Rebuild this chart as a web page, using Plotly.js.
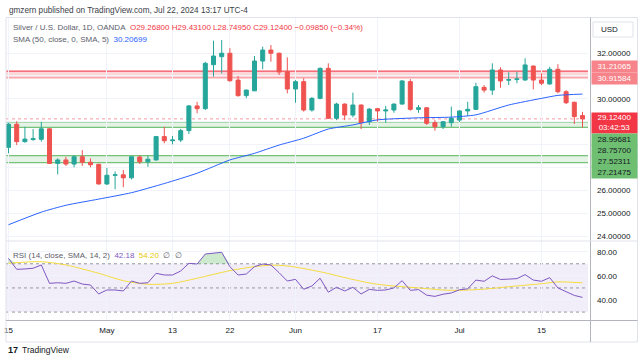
<!DOCTYPE html>
<html><head><meta charset="utf-8">
<script src="https://cdn.plot.ly/plotly-3.0.1.min.js"></script>
<style>html,body{margin:0;padding:0;background:#fff;}#chart{width:643px;height:361px;}</style>
</head><body><div id="chart"></div>
<script>
// ---- data ----
const dates = ['2024-04-15','2024-04-16','2024-04-17','2024-04-18','2024-04-19',
 '2024-04-22','2024-04-23','2024-04-24','2024-04-25','2024-04-26',
 '2024-04-29','2024-04-30','2024-05-01','2024-05-02','2024-05-03',
 '2024-05-06','2024-05-07','2024-05-08','2024-05-09','2024-05-10',
 '2024-05-13','2024-05-14','2024-05-15','2024-05-16','2024-05-17',
 '2024-05-20','2024-05-21','2024-05-22','2024-05-23','2024-05-24',
 '2024-05-27','2024-05-28','2024-05-29','2024-05-30','2024-05-31',
 '2024-06-03','2024-06-04','2024-06-05','2024-06-06','2024-06-07',
 '2024-06-10','2024-06-11','2024-06-12','2024-06-13','2024-06-14',
 '2024-06-17','2024-06-18','2024-06-19','2024-06-20','2024-06-21',
 '2024-06-24','2024-06-25','2024-06-26','2024-06-27','2024-06-28',
 '2024-07-01','2024-07-02','2024-07-03','2024-07-04','2024-07-05',
 '2024-07-08','2024-07-09','2024-07-10','2024-07-11','2024-07-12',
 '2024-07-15','2024-07-16','2024-07-17','2024-07-18','2024-07-19',
 '2024-07-22'];
const open = [27.88,28.89,28.13,28.22,28.23, 28.69,27.18,27.33,27.15,27.47, 27.23,27.14,26.28,26.66,26.68,
 26.55,27.46,27.25,27.33,28.35, 28.17,28.20,28.61,29.69,29.57, 31.49,31.84,31.99,30.82,30.14,
 30.35,31.65,32.13,31.99,31.18, 30.43,30.75,29.51,30.02,31.33, 29.15,29.77,29.29,29.73,29.00,
 29.57,29.47,29.51,29.77,30.75, 29.54,29.61,28.96,28.78,28.96, 29.07,29.47,29.54,30.50,30.38,
 31.26,30.81,30.84,30.82,31.43, 30.82,30.65,31.29,30.31,29.85, 29.268];
const high = [28.96,29.02,28.78,28.68,28.99, 28.72,27.40,27.47,27.53,27.76, 27.40,27.16,26.98,26.83,26.89,
 27.49,27.53,27.53,28.38,28.78, 28.38,28.69,29.73,29.87,31.62, 32.54,32.57,32.21,31.00,30.41,
 31.87,32.28,32.35,32.02,31.81, 30.82,30.90,30.08,31.37,31.55, 29.83,29.80,30.27,29.75,29.59,
 29.60,29.69,29.80,30.82,30.86, 29.73,29.63,29.07,29.02,29.66, 29.50,29.87,30.70,30.60,31.55,
 31.38,31.16,31.18,31.77,31.46, 31.11,31.40,31.51,30.38,29.87, 29.431];
const low = [27.62,27.98,28.08,28.17,28.13, 27.15,26.70,27.07,27.01,27.07, 27.01,26.26,26.24,26.05,26.14,
 26.48,27.15,27.03,27.30,28.06, 28.01,28.11,28.46,29.37,29.51, 30.97,31.11,30.75,30.09,30.03,
 30.33,31.29,31.62,31.04,30.24, 29.83,29.44,29.44,29.98,29.12, 29.07,29.07,29.19,28.68,28.86,
 29.00,28.96,29.39,29.75,29.48, 29.39,28.86,28.61,28.68,28.78, 28.99,29.25,29.51,30.27,30.17,
 30.48,30.60,30.68,30.80,30.41, 30.60,30.62,30.24,29.77,28.90, 28.7495];
const close = [28.89,28.13,28.24,28.26,28.69, 27.18,27.33,27.15,27.47,27.23, 27.12,26.28,26.66,26.68,26.55,
 27.47,27.25,27.36,28.35,28.17, 28.20,28.61,29.69,29.57,31.55, 31.87,31.99,30.79,30.14,30.38,
 31.65,32.13,31.99,31.17,30.43, 30.75,29.51,30.02,31.33,29.15, 29.77,29.29,29.73,28.96,29.55,
 29.47,29.51,29.77,30.78,29.54, 29.61,28.93,28.78,29.00,29.15, 29.47,29.54,30.53,30.38,31.26,
 30.78,30.84,30.87,31.48,30.82, 30.68,31.29,30.31,29.83,29.2225, 29.124];

// SMA(50) read at selected candles
const smaDates = ['2024-04-15','2024-04-19','2024-04-24','2024-04-30','2024-05-06','2024-05-10','2024-05-16',
 '2024-05-22','2024-05-27','2024-05-30','2024-06-04','2024-06-07','2024-06-12','2024-06-17','2024-06-24',
 '2024-06-28','2024-07-03','2024-07-09','2024-07-15','2024-07-17','2024-07-22'];
const smaValues = [24.50,25.05,25.35,25.62,25.90,26.30,26.75,27.33,27.62,27.98,28.28,28.68,28.86,29.08,29.17,
 29.20,29.30,29.73,30.02,30.15,30.20699];

// RSI(14) per candle
const rsi = [74.5,65.4,65.7,66.3,69.0, 53.8,54.3,53.8,55.7,53.2, 52.4,45.0,48.3,48.3,47.5,
 55.7,53.8,54.3,62.1,60.7, 60.7,64.0,70.4,69.8,78.1, 78.7,79.5,67.6,60.7,61.5,
 67.6,69.8,69.0,62.6,55.7, 57.1,48.9,51.6,58.0,46.5, 50.5,47.5,50.5,45.0,48.8,
 48.0,48.3,50.0,56.0,48.0, 48.6,44.0,43.0,44.8,45.8, 48.5,49.2,56.5,55.5,60.0,
 57.0,57.3,57.7,61.0,56.5, 55.5,58.5,50.0,47.0,43.8, 42.18];
// RSI SMA(14) read at selected candles
const rsiSmaDates = ['2024-04-15','2024-04-19','2024-04-24','2024-04-30','2024-05-03','2024-05-08','2024-05-13',
 '2024-05-16','2024-05-22','2024-05-27','2024-05-29','2024-05-31','2024-06-06','2024-06-12','2024-06-17',
 '2024-06-24','2024-06-28','2024-07-04','2024-07-09','2024-07-15','2024-07-17','2024-07-22'];
const rsiSmaValues = [70.4,71.7,69.0,62.1,56.0,53.0,53.8,58.0,64.3,67.6,68.8,68.2,63.4,57.0,53.0,
 50.0,48.0,49.0,51.0,53.5,55.0,54.2];
const rsiBands = [30, 50, 70];

// levels / labels
const resistanceZone = [30.91584, 31.21065];
const supportZones = [[28.75700, 28.99681], [27.21475, 27.52311]];
const priceTicks = [24, 25, 26, 27, 28, 29, 30, 31, 32];
const priceTicksCovered = [27, 28, 29, 31];   // hidden under the level labels in the reference
const rsiTicks = [40, 60, 80];
const tickDates = ['2024-04-15','2024-05-01','2024-05-13','2024-05-22','2024-06-03','2024-06-17','2024-07-01','2024-07-15'];
const tickLabels = ['15','May','13','22','Jun','17','Jul','15'];
const countdown = '03:42:53';
const headerText = 'gmzern published on TradingView.com, Jul 22, 2024 13:17 UTC-4';
const symbolText = 'Silver / U.S. Dollar, 1D, OANDA';

// ---- drawing ----
const FONT = 'Liberation Sans, Arial, sans-serif';
const X = px => (px - 6) / 582;
const Y = py => (320 - py) / 302;
const last = close.length - 1;
const chg = close[last] - close[last - 1];
const pct = chg / close[last - 1] * 100;
const fmtS = v => (v < 0 ? '\u2212' : '') + Math.abs(v).toFixed(5);

const traces = [
 {type:'candlestick', x:dates, open:open, high:high, low:low, close:close, xaxis:'x', yaxis:'y',
  increasing:{line:{color:'#26a69a', width:1}, fillcolor:'#26a69a'},
  decreasing:{line:{color:'#ef5350', width:1}, fillcolor:'#ef5350'},
  whiskerwidth:0, hoverinfo:'skip', showlegend:false},
 {type:'scatter', mode:'lines', x:smaDates, y:smaValues, xaxis:'x', yaxis:'y',
  line:{color:'#2962ff', width:1, shape:'spline', smoothing:0.6}, hoverinfo:'skip', showlegend:false},
 {type:'scatter', mode:'lines', x:dates, y:rsi.map(() => rsiBands[2]), xaxis:'x', yaxis:'y2',
  line:{width:0, color:'rgba(0,0,0,0)'}, hoverinfo:'skip', showlegend:false},
 {type:'scatter', mode:'lines', x:dates, y:rsi.map(v => Math.max(v, rsiBands[2])), xaxis:'x', yaxis:'y2',
  fill:'tonexty', fillcolor:'rgba(76,175,80,0.28)', line:{width:0, color:'rgba(0,0,0,0)'}, hoverinfo:'skip', showlegend:false},
 {type:'scatter', mode:'lines', x:rsiSmaDates, y:rsiSmaValues, xaxis:'x', yaxis:'y2',
  line:{color:'#f5dc3c', width:1, shape:'spline', smoothing:0.8}, hoverinfo:'skip', showlegend:false},
 {type:'scatter', mode:'lines', x:dates, y:rsi, xaxis:'x', yaxis:'y2',
  line:{color:'#7e57c2', width:1}, hoverinfo:'skip', showlegend:false}
];

const shapes = [];
// resistance zone
shapes.push({type:'rect', xref:'paper', x0:0, x1:1, yref:'y', y0:resistanceZone[0], y1:resistanceZone[1],
  fillcolor:'rgba(242,54,69,0.2)', line:{width:0}, layer:'below'});
shapes.push({type:'line', xref:'paper', x0:0, x1:1, yref:'y', y0:resistanceZone[1], y1:resistanceZone[1],
  line:{color:'rgba(242,54,69,0.85)', width:1.3}, layer:'below'});
shapes.push({type:'line', xref:'paper', x0:0, x1:1, yref:'y', y0:resistanceZone[0], y1:resistanceZone[0],
  line:{color:'rgba(242,54,69,0.45)', width:1.3}, layer:'below'});
// support zones
supportZones.forEach(z => {
  shapes.push({type:'rect', xref:'paper', x0:0, x1:1, yref:'y', y0:z[0], y1:z[1],
    fillcolor:'rgba(76,175,80,0.15)', line:{width:0}, layer:'below'});
  z.forEach(v => shapes.push({type:'line', xref:'paper', x0:0, x1:1, yref:'y', y0:v, y1:v,
    line:{color:'rgba(76,175,80,0.75)', width:1.3}, layer:'below'}));
});
// current price dotted line
shapes.push({type:'line', xref:'paper', x0:0, x1:1, yref:'y', y0:close[last], y1:close[last],
  line:{color:'rgba(242,54,69,0.5)', width:1, dash:'dot'}, layer:'below'});
// RSI band
shapes.push({type:'rect', xref:'paper', x0:0, x1:1, yref:'y2', y0:rsiBands[0], y1:rsiBands[2],
  fillcolor:'rgba(126,87,194,0.1)', line:{width:0}, layer:'below'});
rsiBands.forEach(v => shapes.push({type:'line', xref:'paper', x0:0, x1:1, yref:'y2', y0:v, y1:v,
  line:{color:'#9598a1', width:1, dash:'3px,3px'}, layer:'below'}));
// frame lines
shapes.push({type:'rect', xref:'paper', yref:'paper', x0:X(6), x1:X(637.5), y0:Y(342), y1:Y(17.5),
  line:{color:'#e0e3eb', width:1}, layer:'above'});
shapes.push({type:'line', xref:'paper', yref:'paper', x0:X(590.5), x1:X(590.5), y0:Y(342), y1:Y(17.5),
  line:{color:'#b2b5be', width:1}, layer:'above'});
shapes.push({type:'line', xref:'paper', yref:'paper', x0:X(6), x1:X(637.5), y0:Y(241), y1:Y(241),
  line:{color:'#e0e3eb', width:1}, layer:'above'});
shapes.push({type:'line', xref:'paper', yref:'paper', x0:X(6), x1:X(637.5), y0:Y(320.5), y1:Y(320.5),
  line:{color:'#b2b5be', width:1}, layer:'above'});
// USD box
shapes.push({type:'rect', xref:'paper', yref:'paper', x0:X(593), x1:X(633), y0:Y(37), y1:Y(22),
  line:{color:'#e0e3eb', width:1}, fillcolor:'#ffffff', layer:'above'});

const ann = [];
const txt = (px, py, text, opts) => Object.assign({xref:'paper', yref:'paper', x:X(px), y:Y(py),
  xanchor:'left', yanchor:'middle', showarrow:false, text:text, font:{family:FONT, size:8, color:'#5d606b'}}, opts || {});
ann.push(txt(6.5, 10, headerText, {font:{family:FONT, size:8.2, color:'#3b3e48'}}));
ann.push(txt(11, 27.5, symbolText + '&nbsp;&nbsp;<span style="color:#f23645">O' + open[last].toFixed(5) +
  ' H' + high[last].toFixed(5) + ' L' + low[last].toFixed(5) + ' C' + close[last].toFixed(5) + ' ' +
  fmtS(chg) + ' (' + (pct < 0 ? '\u2212' : '') + Math.abs(pct).toFixed(2) + '%)</span>'));
ann.push(txt(11, 39.5, 'SMA (50, close, 0, SMA, 5)&nbsp;&nbsp;<span style="color:#2962ff">' +
  smaValues[smaValues.length - 1].toFixed(5) + '</span>'));
ann.push(txt(11, 255, 'RSI (14, close, SMA, 14, 2)&nbsp;&nbsp;<span style="color:#7e57c2">' + rsi[last].toFixed(2) +
  '</span>&nbsp;&nbsp;<span style="color:#e8c800">' + rsiSmaValues[rsiSmaValues.length - 1].toFixed(2) +
  '</span>&nbsp;&nbsp;\u2205&nbsp;&nbsp;\u2205'));
ann.push(txt(599, 29.5, 'USD', {font:{family:FONT, size:8, color:'#131722'}}));
// right-side price labels
const box = (py, text, bg, fg, h) => ({xref:'paper', yref:'paper', x:X(591), y:Y(py), xanchor:'left', yanchor:'middle',
  showarrow:false, text:text, width:45, height:h, borderpad:0, bgcolor:bg, align:'center',
  font:{family:FONT, size:8, color:fg}});
ann.push(box(66.5, resistanceZone[1].toFixed(5), '#f7848a', '#ffffff', 11.4));
ann.push(box(78.2, resistanceZone[0].toFixed(5), '#f7848a', '#ffffff', 11.4));
ann.push(box(123.5, close[last].toFixed(5) + '<br>' + countdown, '#f23645', '#ffffff', 19.5));
const greenVals = [supportZones[0][1], supportZones[0][0], supportZones[1][1], supportZones[1][0]];
const greenPy = [139.5, 150.5, 161.5, 172.5];
greenVals.forEach((v, i) => ann.push(box(greenPy[i], v.toFixed(5), '#6fbf73', '#131722', 11)));
// footer logo
ann.push(txt(6, 350, '<b>17</b>', {font:{family:FONT, size:9, color:'#131722'}}));
ann.push(txt(20, 350, 'TradingView', {font:{family:FONT, size:8.5, color:'#131722'}}));

const layout = {
  width:643, height:361, paper_bgcolor:'#ffffff', plot_bgcolor:'#ffffff',
  margin:{l:6, r:55, t:18, b:41, pad:0}, showlegend:false, dragmode:false,
  font:{family:FONT, size:8, color:'#131722'},
  xaxis:{type:'category', domain:[0,1], anchor:'y2', range:[-0.305, 70.67], tickvals:tickDates, ticktext:tickLabels,
    showgrid:true, gridcolor:'#f0f3fa', ticks:'', showline:false, zeroline:false, rangeslider:{visible:false},
    tickfont:{family:FONT, size:8, color:'#131722'}, fixedrange:true, automargin:false, ticklabelstandoff:4},
  yaxis:{domain:[0.2616,1], anchor:'x', side:'right', range:[23.79, 33.53], tickvals:priceTicks,
    ticktext:priceTicks.map(v => priceTicksCovered.includes(v) ? '' : v.toFixed(5)),
    showgrid:true, gridcolor:'#f0f3fa', ticks:'', zeroline:false,
    showline:false, tickfont:{family:FONT, size:8, color:'#131722'}, fixedrange:true, automargin:false, ticklabelstandoff:8},
  yaxis2:{domain:[0,0.2616], anchor:'x', side:'right', range:[23.44, 88.86], tickvals:rsiTicks,
    ticktext:rsiTicks.map(v => v.toFixed(2)), showgrid:true, gridcolor:'#f0f3fa', ticks:'', zeroline:false,
    showline:false, tickfont:{family:FONT, size:8, color:'#131722'}, fixedrange:true, automargin:false, ticklabelstandoff:8},
  shapes:shapes, annotations:ann
};
Plotly.newPlot('chart', traces, layout, {staticPlot:true, displayModeBar:false});
</script>
</body></html>
